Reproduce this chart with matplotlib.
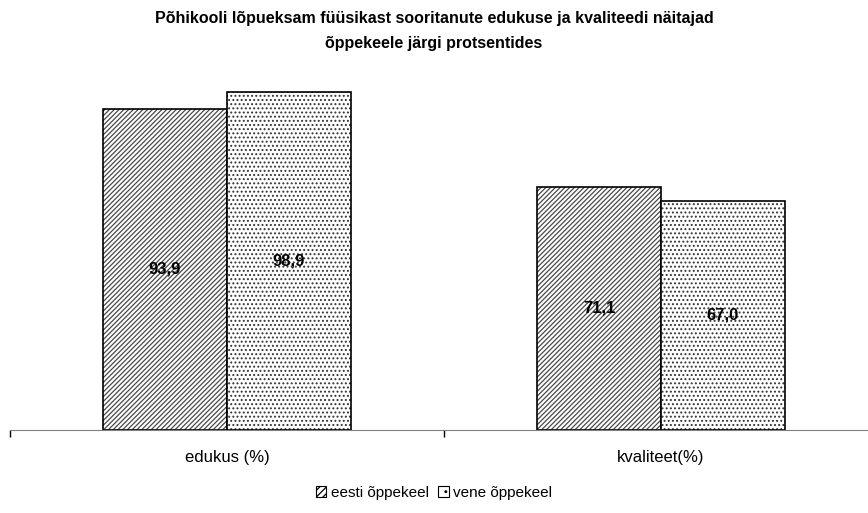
import matplotlib.pyplot as plt
from matplotlib.patches import Patch
import numpy as np

plt.rcParams['font.family'] = ['Liberation Sans', 'DejaVu Sans']
plt.rcParams['hatch.linewidth'] = 0.9

# data
categories = ['edukus (%)', 'kvaliteet(%)']
series_names = ['eesti õppekeel', 'vene õppekeel']
eesti = [93.9, 71.1]
vene = [98.9, 67.0]
title = 'Põhikooli lõpueksam füüsikast sooritanute edukuse ja kvaliteedi näitajad\nõppekeele järgi protsentides'

hatches = ['///////', '....']
hatch_cols = ['#4a4a4a', '#333333']

fig = plt.figure(figsize=(8.68, 5.13), dpi=100)
ax = fig.add_axes([10 / 868, 83 / 513, 868 / 868, 342 / 513])

x = np.arange(len(categories))
w = 0.2857
offsets = [-w / 2, w / 2]
for vals, off, h, hc in zip([eesti, vene], offsets, hatches, hatch_cols):
    # hatch fill in grey, black outline on top
    ax.bar(x + off, vals, w, color='white', edgecolor=hc, linewidth=0, hatch=h)
    bars = ax.bar(x + off, vals, w, fill=False, edgecolor='black', linewidth=1.2)
    for r, v in zip(bars, vals):
        ax.text(r.get_x() + r.get_width() / 2, v / 2, f'{v:.1f}'.replace('.', ','),
                ha='center', va='center', fontsize=12, fontweight='bold')

ax.set_xlim(-0.5, 1.5)
ax.set_ylim(0, 100)
for s in ['top', 'right', 'left']:
    ax.spines[s].set_visible(False)
ax.spines['bottom'].set_color('#808080')
ax.set_yticks([])
ax.set_xticks([-0.5, 0.5, 1.5])
ax.set_xticklabels(['', '', ''])
ax.tick_params(axis='x', length=5, color='black', width=1)
for xi, c in zip(x, categories):
    ax.text(xi, -8, c, ha='center', va='center', fontsize=12)

fig.text(0.5, 1 - 31 / 513, title, ha='center', va='center', fontsize=11.5,
         fontweight='bold', linespacing=1.8)

handles = [Patch(facecolor='white', edgecolor='black', hatch=h, linewidth=0.8, label=n)
           for h, n in zip(['/////', '..'], series_names)]
fig.legend(handles=handles, loc='center', bbox_to_anchor=(0.5, 1 - 493 / 513), ncol=2,
           frameon=False, fontsize=11, handlelength=0.7, handleheight=0.7,
           handletextpad=0.3, columnspacing=0.6)

fig.savefig('out.png', dpi=100)
